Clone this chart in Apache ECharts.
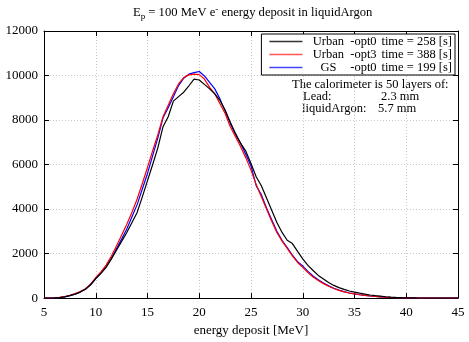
<!DOCTYPE html>
<html><head><meta charset="utf-8">
<script src="https://cdn.jsdelivr.net/npm/echarts@6/dist/echarts.min.js"></script>
<style>html,body{margin:0;padding:0;background:#fff}#c{width:469px;height:342px}</style>
</head><body><div id="c"></div>
<script>
var energy = [5,5.5,6,6.5,7,7.5,8,8.5,9,9.5,10,10.5,11,11.5,12,12.5,13,13.5,14,14.5,15,15.5,16,16.5,17,17.5,18,18.5,19,19.5,20,20.5,21,21.5,22,22.5,23,23.5,24,24.5,25,25.5,26,26.5,27,27.5,28,28.5,29,29.5,30,30.5,31,31.5,32,32.5,33,33.5,34,34.5,35,35.5,36,36.5,37,37.5,38,38.5,39,39.5,40,40.5,41,41.5,42,42.5,43,43.5,44,44.5,45];
var urbanOpt0 = [0,3,10,25,55,110,180,270,400,600,880,1110,1380,1750,2150,2550,2950,3400,3850,4550,5280,6000,6750,7700,8150,8850,9050,9250,9540,9840,9800,9600,9400,9180,8880,8450,7900,7400,6950,6600,6050,5450,5050,4500,3950,3400,2950,2600,2450,2100,1760,1470,1240,1020,860,700,570,470,390,320,270,220,180,140,110,85,60,45,32,22,15,10,6,4,2,1,1,0,0,0,0];
var urbanOpt3 = [0,5,15,35,70,130,200,290,420,620,920,1180,1480,1880,2340,2820,3320,3860,4450,5150,5870,6620,7340,8150,8660,9180,9620,9910,10030,10060,10040,9840,9470,9180,8730,8290,7700,7250,6800,6300,5750,5100,4550,4000,3450,2950,2560,2230,1900,1600,1380,1150,950,790,650,530,430,350,280,230,190,150,120,95,75,55,40,30,22,15,10,7,5,3,2,1,1,0,0,0,0];
var gsOpt0 = [0,3,10,25,55,110,180,270,400,600,880,1120,1400,1780,2220,2650,3100,3650,4200,4900,5600,6400,7200,8100,8550,9050,9550,9880,10060,10130,10180,9980,9690,9400,8950,8400,7850,7350,6950,6450,5940,5050,4650,4050,3520,3000,2600,2270,1930,1640,1440,1200,990,820,680,550,440,360,290,230,190,150,120,95,75,55,40,30,22,15,10,7,5,3,2,1,1,0,0,0,0];
var seriesNames = ['Urban -opt0', 'Urban -opt3', 'GS -opt0'];
var seriesTimes = ['258', '388', '199'];
var xTicks = [5,10,15,20,25,30,35,40,45];
var yTicks = [0,2000,4000,6000,8000,10000,12000];

var FONT = '"Liberation Serif", "DejaVu Serif", serif';
function pairs(vals){ return energy.map(function(e,i){ return [e, vals[i]]; }); }
var chart = echarts.init(document.getElementById('c'), null, {renderer:'canvas'});
var gridLine = {show:true, lineStyle:{color:'#c8c8c8', type:[1,2], width:1}};
var axisCommon = {
  axisLine:{show:true, onZero:false, lineStyle:{color:'#000', width:1}},
  axisTick:{show:true, inside:true, length:5, lineStyle:{color:'#000'}},
};
var colors = ['#000000','#ff0000','#0000ff'];
var legendColors = ['#333333','#ff5555','#4444ff'];
var vals = [urbanOpt0, urbanOpt3, gsOpt0];
chart.setOption({
  animation:false,
  textStyle:{fontFamily:FONT},
  grid:{left:44, right:11, top:31, bottom:39},
  title:{
    text:'{a|E}{s|p}{a| = 100 MeV e}{u|-}{a| energy deposit in liquidArgon}',
    left:128, top:-1,
    textStyle:{fontWeight:'normal', rich:{
      a:{fontFamily:FONT, fontSize:12.6, color:'#000', fontWeight:'normal'},
      s:{fontFamily:FONT, fontSize:9, color:'#000', fontWeight:'normal', padding:[8,0,0,0]},
      u:{fontFamily:FONT, fontSize:9, color:'#000', fontWeight:'normal', padding:[0,0,6,0]}
    }}
  },
  legend:{
    orient:'vertical', right:14, top:34,
    icon:'rect', itemWidth:33, itemHeight:1.6, itemGap:0,
    padding:[1,3,1,8],
    borderColor:'#000', borderWidth:1, backgroundColor:'#fff',
    data:seriesNames.map(function(n,i){ return {name:n, itemStyle:{color:legendColors[i]}}; }),
    formatter:function(n){
      var i = seriesNames.indexOf(n);
      var p = n.split(' ');
      return '{n|'+p[0]+'}{o|'+p[1]+'}{t|time = '+seriesTimes[i]+' [s]}';
    },
    textStyle:{fontFamily:FONT, fontSize:12.5, lineHeight:12, color:'#000', rich:{
      n:{fontFamily:FONT, fontSize:12.5, lineHeight:12, width:34, align:'center', padding:[0,0,0,4]},
      o:{fontFamily:FONT, fontSize:12.5, lineHeight:12, width:36, align:'left'},
      t:{fontFamily:FONT, fontSize:12.5, lineHeight:12}
    }}
  },
  xAxis:[
    Object.assign({type:'value', min:5, max:45, interval:5, position:'bottom',
      name:'energy deposit [MeV]', nameLocation:'middle', nameGap:24,
      nameTextStyle:{fontFamily:FONT, fontSize:13, color:'#000'},
      axisLabel:{fontFamily:FONT, fontSize:13, color:'#000', margin:8},
      splitLine:gridLine}, axisCommon),
    Object.assign({type:'value', min:5, max:45, interval:5, position:'top',
      axisLabel:{show:false}, splitLine:{show:false}}, axisCommon)
  ],
  yAxis:[
    Object.assign({type:'value', min:0, max:12000, interval:2000, position:'left',
      axisLabel:{fontFamily:FONT, fontSize:13, color:'#000', margin:6,
        formatter:function(v){ return String(v); }},
      splitLine:gridLine}, axisCommon),
    Object.assign({type:'value', min:0, max:12000, interval:2000, position:'right',
      axisLabel:{show:false}, splitLine:{show:false}}, axisCommon)
  ],
  graphic:[
    {type:'text', left:292, top:78, style:{text:'The calorimeter is 50 layers of:', font:'12.5px '+FONT, fill:'#000'}},
    {type:'text', left:303, top:90, style:{text:'Lead:', font:'12.5px '+FONT, fill:'#000'}},
    {type:'text', left:381, top:90, style:{text:'2.3 mm', font:'12.5px '+FONT, fill:'#000'}},
    {type:'text', left:302, top:102, style:{text:'liquidArgon:', font:'12.5px '+FONT, fill:'#000'}},
    {type:'text', left:378, top:102, style:{text:'5.7 mm', font:'12.5px '+FONT, fill:'#000'}}
  ],
  series:seriesNames.map(function(n,i){
    return {name:n, type:'line', data:pairs(vals[i]), symbol:'none', showSymbol:false,
      color:colors[i], itemStyle:{color:colors[i]}, lineStyle:{color:colors[i], width:1.2}, z:3-i+2};
  })
});
</script></body></html>
